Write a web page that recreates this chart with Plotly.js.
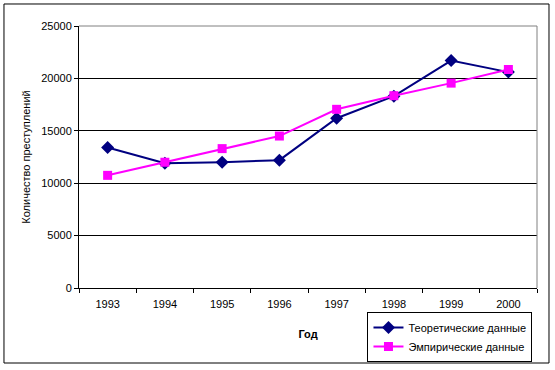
<!DOCTYPE html>
<html><head><meta charset="utf-8">
<script src="https://cdn.plot.ly/plotly-3.0.1.min.js"></script>
<style>html,body{margin:0;padding:0;background:#fff}#chart{width:555px;height:370px}</style>
</head><body><div id="chart"></div>
<script>
var years = ['1993','1994','1995','1996','1997','1998','1999','2000'];
var theoretical = [13400, 11900, 12000, 12200, 16200, 18300, 21700, 20600];
var empirical = [10750, 12000, 13300, 14500, 17050, 18350, 19550, 20850];
var seriesNames = ['Теоретические данные', 'Эмпирические данные'];

var font = {family: 'Liberation Sans, Arial, sans-serif', size: 11, color: '#000'};
var data = [
  {x: years, y: theoretical, name: seriesNames[0], type: 'scatter', mode: 'lines+markers',
   line: {color: '#000080', width: 2}, marker: {symbol: 'diamond', size: 10, color: '#000080'}},
  {x: years, y: empirical, name: seriesNames[1], type: 'scatter', mode: 'lines+markers',
   line: {color: '#FF00FF', width: 2}, marker: {symbol: 'square', size: 9, color: '#FF00FF'}}
];
var layout = {
  width: 555, height: 370,
  margin: {l: 79, r: 18, t: 26, b: 82, autoexpand: false},
  paper_bgcolor: '#fff', plot_bgcolor: '#fff',
  font: font,
  showlegend: true,
  legend: {x: 0.81, y: -0.187, xanchor: 'center', yanchor: 'middle',
    bordercolor: '#000', borderwidth: 1, bgcolor: '#fff',
    font: {family: 'Liberation Sans, Arial, sans-serif', size: 11, color: '#000'},
    tracegroupgap: 0, itemwidth: 30},
  xaxis: {type: 'category', tickson: 'boundaries', ticks: 'outside', ticklen: 4,
    tickcolor: '#000', showline: true, linecolor: '#000', linewidth: 1,
    showgrid: false, zeroline: false, range: [-0.5, 7.5], automargin: false,
    tickfont: font, ticklabelstandoff: 6,
    title: {text: 'Год', font: {family: 'Liberation Sans, Arial, sans-serif', size: 11, color: '#000', weight: 'bold'}, standoff: 21}},
  yaxis: {range: [0, 25000], dtick: 5000, tick0: 0, ticks: 'outside', ticklen: 4,
    tickformat: 'd', exponentformat: 'none',
    tickcolor: '#000', showline: true, linecolor: '#000', linewidth: 1,
    showgrid: true, gridcolor: '#000', gridwidth: 1, zeroline: false, automargin: false,
    tickfont: font,
    title: {text: 'Количество преступлений', font: font, standoff: 8}},
  shapes: [
    {type: 'line', xref: 'paper', yref: 'paper', x0: 0, x1: 1, y0: 1, y1: 1, line: {color: '#808080', width: 1}, layer: 'above'},
    {type: 'line', xref: 'paper', yref: 'paper', x0: 1, x1: 1, y0: 0, y1: 1, line: {color: '#808080', width: 1}, layer: 'above'},
    {type: 'rect', xref: 'paper', yref: 'paper', x0: -0.1638, x1: 1.0262, y0: -0.2863, y1: 1.084, line: {color: '#000', width: 1}, fillcolor: 'rgba(0,0,0,0)', layer: 'below'}
  ]
};
Plotly.newPlot('chart', data, layout, {displayModeBar: false, staticPlot: true});
</script>
</body></html>
